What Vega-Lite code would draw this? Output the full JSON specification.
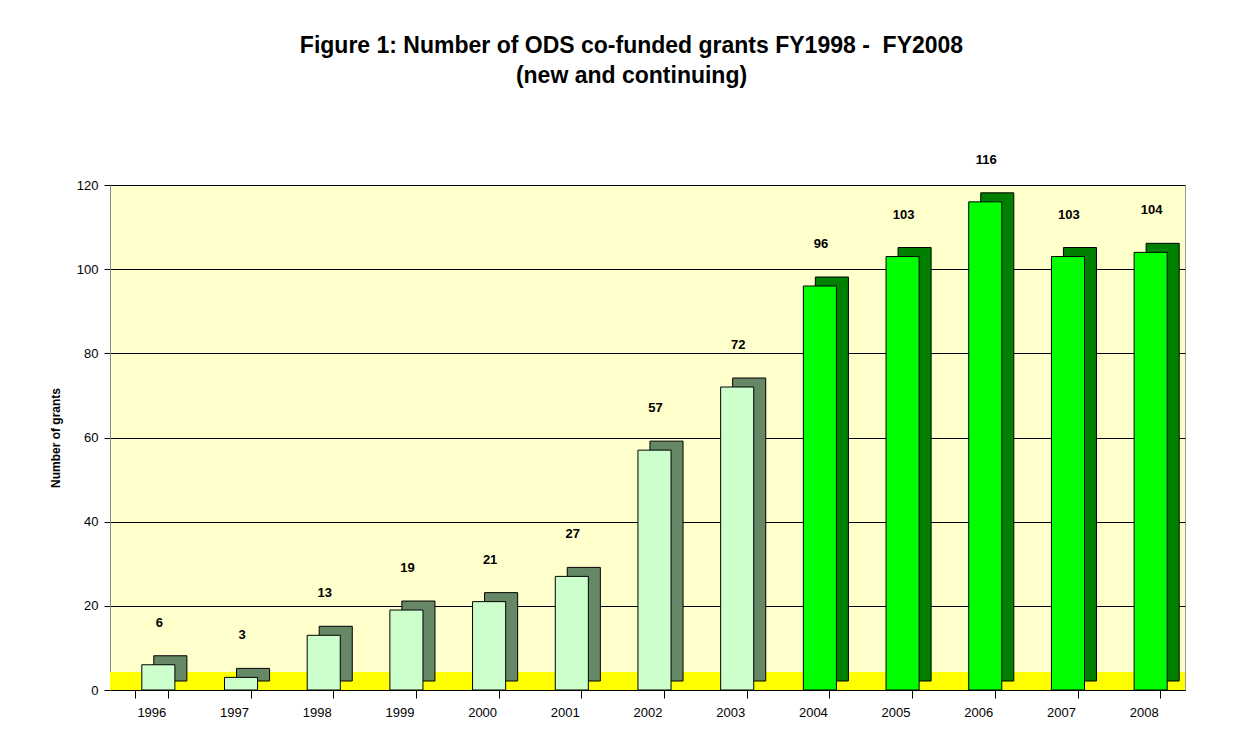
{
  "$schema": "https://vega.github.io/schema/vega-lite/v6.json",
  "width": 1075,
  "height": 505,
  "autosize": {"type": "none"},
  "padding": {"left": 110, "top": 185, "right": 54, "bottom": 55},
  "background": "white",
  "title": {
    "text": ["Figure 1: Number of ODS co-funded grants FY1998 -\u00a0\u00a0FY2008", "(new and continuing)"],
    "font": "Liberation Sans",
    "fontSize": 23,
    "fontWeight": "bold",
    "lineHeight": 30,
    "offset": 66,
    "dx": -16,
    "color": "black"
  },
  "data": {
    "values": [
      {"year": "1996", "grants": 6, "group": "early"},
      {"year": "1997", "grants": 3, "group": "early"},
      {"year": "1998", "grants": 13, "group": "early"},
      {"year": "1999", "grants": 19, "group": "early"},
      {"year": "2000", "grants": 21, "group": "early"},
      {"year": "2001", "grants": 27, "group": "early"},
      {"year": "2002", "grants": 57, "group": "early"},
      {"year": "2003", "grants": 72, "group": "early"},
      {"year": "2004", "grants": 96, "group": "late"},
      {"year": "2005", "grants": 103, "group": "late"},
      {"year": "2006", "grants": 116, "group": "late"},
      {"year": "2007", "grants": 103, "group": "late"},
      {"year": "2008", "grants": 104, "group": "late"}
    ]
  },
  "config": {
    "view": {"fill": "#FFFFCC", "stroke": "#999999"},
    "font": "Liberation Sans"
  },
  "encoding": {
    "x": {
      "field": "year",
      "type": "nominal",
      "sort": null,
      "scale": {"paddingInner": 0.6, "paddingOuter": 0.3},
      "axis": {
        "title": null,
        "labelAngle": 0,
        "labelFontSize": 13,
        "labelColor": "black",
        "labelPadding": 8,
        "tickBand": "extent",
        "tickColor": "black",
        "tickSize": 8,
        "domainColor": "black"
      }
    }
  },
  "layer": [
    {
      "mark": {"type": "rect", "color": "#FFFF00"},
      "encoding": {
        "x": null,
        "y": {"datum": 0, "type": "quantitative"},
        "y2": {"datum": 4.3}
      }
    },
    {
      "mark": {"type": "bar", "stroke": "black", "strokeWidth": 1},
      "encoding": {
        "y": {"field": "grants", "type": "quantitative"},
        "xOffset": {"value": 19},
        "yOffset": {"value": -9},
        "color": {
          "field": "group",
          "type": "nominal",
          "scale": {"domain": ["early", "late"], "range": ["#668866", "#008000"]},
          "legend": null
        }
      }
    },
    {
      "mark": {"type": "bar", "stroke": "black", "strokeWidth": 1},
      "encoding": {
        "y": {
          "field": "grants",
          "type": "quantitative",
          "scale": {"domain": [0, 120]},
          "axis": {
            "title": "Number of grants",
            "titleFontSize": 12,
            "titleFontWeight": "bold",
            "titleColor": "black",
            "titlePadding": 14,
            "values": [0, 20, 40, 60, 80, 100, 120],
            "labelFontSize": 13,
            "labelColor": "black",
            "labelPadding": 6,
            "tickColor": "black",
            "tickSize": 6,
            "domainColor": "#888888",
            "grid": true,
            "gridColor": "black",
            "gridOpacity": 1
          }
        },
        "xOffset": {"value": 7},
        "color": {
          "field": "group",
          "type": "nominal",
          "scale": {"domain": ["early", "late"], "range": ["#CCFFCC", "#00FF00"]},
          "legend": null
        }
      }
    },
    {
      "mark": {"type": "text", "dy": -42, "dx": 8, "fontSize": 13, "fontWeight": "bold", "color": "black"},
      "encoding": {
        "y": {"field": "grants", "type": "quantitative"},
        "text": {"field": "grants", "type": "quantitative"}
      }
    }
  ],
  "resolve": {"scale": {"color": "independent"}}
}
